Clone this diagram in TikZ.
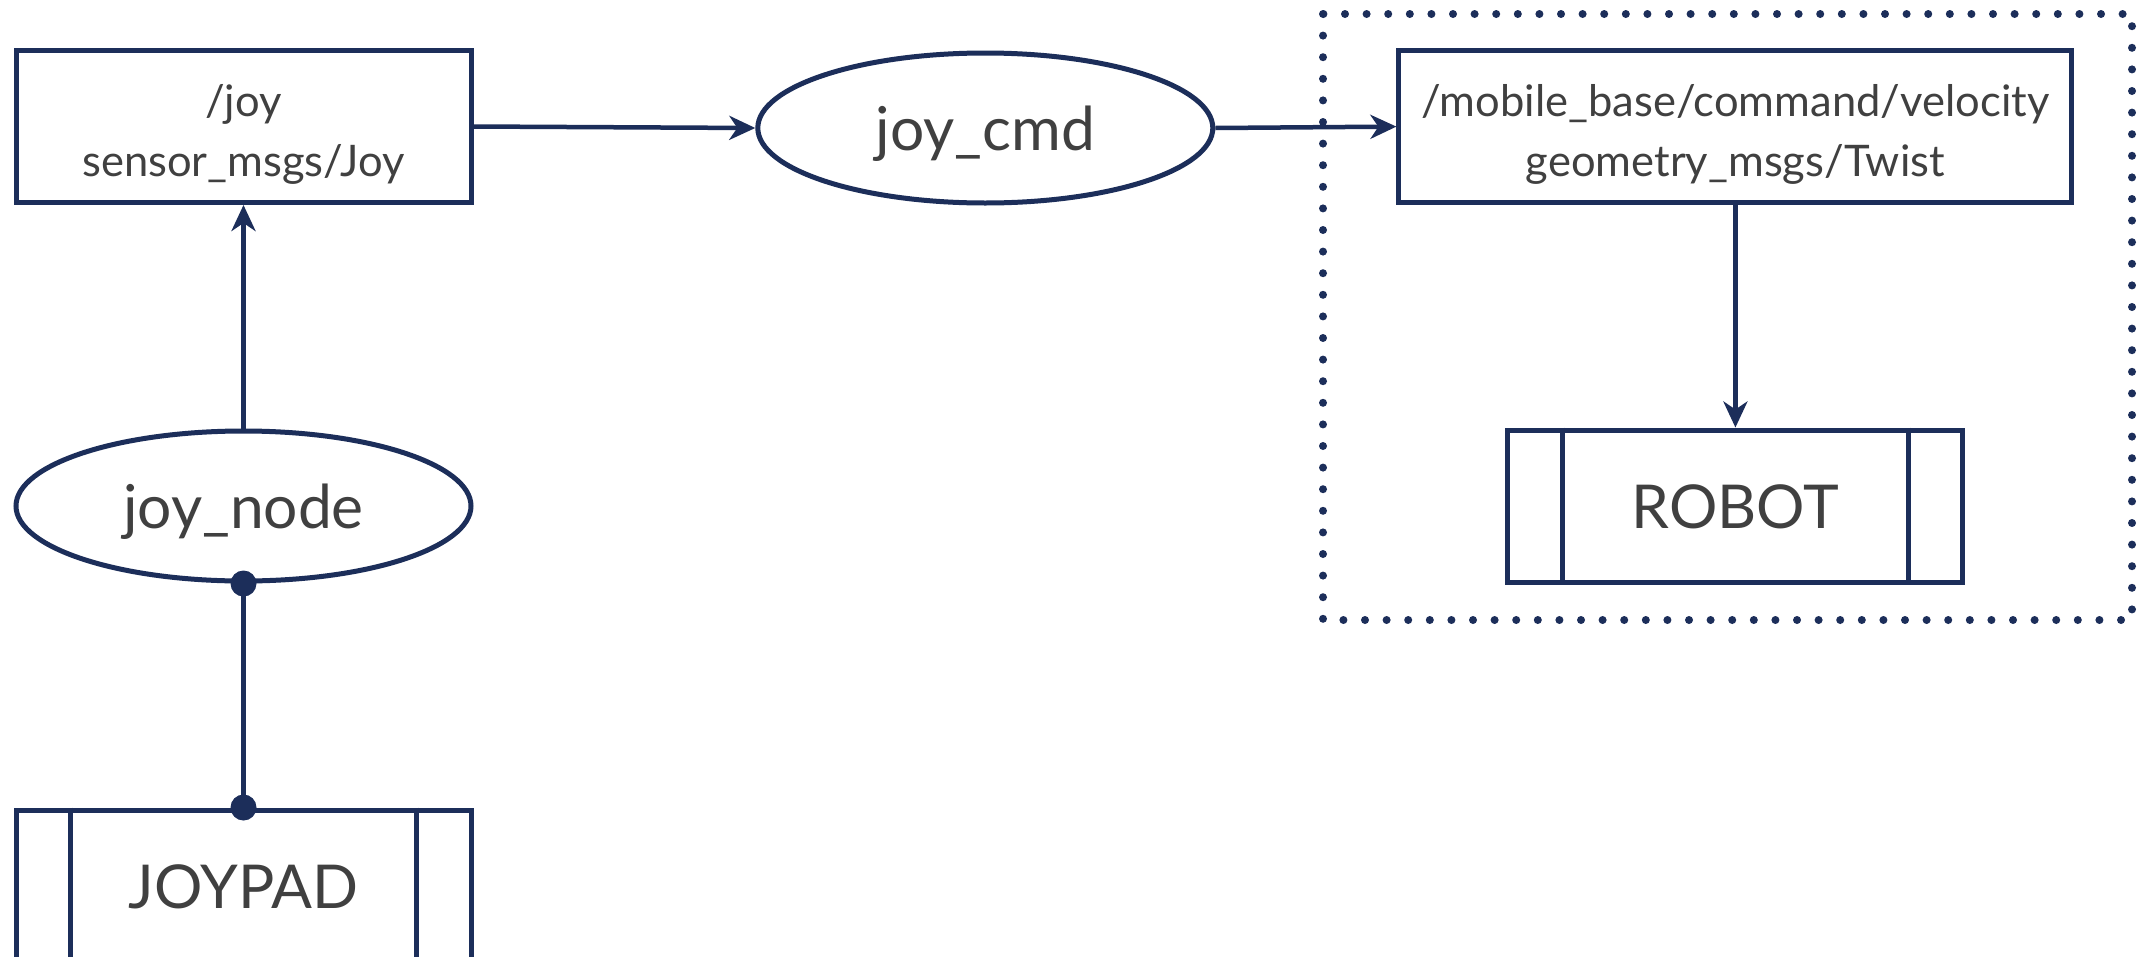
\documentclass[tikz,border=0pt]{standalone}
\usepackage{fontspec}
\setmainfont{Lato}
\usetikzlibrary{arrows.meta,shapes.geometric}
\definecolor{navy}{RGB}{28,46,90}
\definecolor{ink}{RGB}{64,64,64}
\tikzset{
  base/.style={draw=navy, line width=5pt, text=ink, inner sep=0pt},
  topic/.style={base, rectangle, minimum height=152pt, font=\fontsize{43.5}{60}\selectfont},
  rosnode/.style={base, ellipse, minimum width=455pt, minimum height=150pt, font=\fontsize{60.5}{66}\selectfont},
  device/.style={base, rectangle, minimum width=455pt, minimum height=152pt, font=\fontsize{60.5}{66}\selectfont},
  arr/.style={draw=navy, line width=4.5pt, -{Stealth[length=26pt, width=24pt, inset=8pt]}},
  link/.style={draw=navy, line width=4.5pt},
  frame/.style={draw=navy, line width=8pt, line cap=round, dash pattern=on 0pt off 21.6pt},
}
% text set slightly below the geometric centre of its shape
\newcommand{\lowered}[2][-9.5pt]{\raisebox{#1}[\height][\depth]{\begin{tabular}{@{}c@{}}#2\end{tabular}}}
\newcommand{\sidebars}[1]{%
  \draw[navy, line width=5pt] ([xshift=57pt]#1.north west) -- ([xshift=57pt]#1.south west);
  \draw[navy, line width=5pt] ([xshift=-57pt]#1.north east) -- ([xshift=-57pt]#1.south east);}
\begin{document}
\begin{tikzpicture}[x=1pt, y=-1pt]
  \useasboundingbox (0,0) rectangle (2146,956);
  \clip (0,0) rectangle (2146,956);
  \fill[white] (0,0) rectangle (2146,956);

  % dotted group around the robot side
  \draw[frame] (1323,14) rectangle (2132,620);

  % topics
  \node[topic, minimum width=455pt] (joytopic) at (243.5,126.5) {\lowered[-7.5pt]{/joy\\sensor\_msgs/Joy}};
  \node[topic, minimum width=673pt] (velocity) at (1735.4,126.6) {\lowered[-7.5pt]{/mobile\_base/command/velocity\\geometry\_msgs/Twist}};

  % ROS nodes
  \node[rosnode] (joycmd) at (985.3,128) {\lowered{joy\_cmd}};
  \node[rosnode] (joynode) at (243.5,506) {\lowered{joy\_node}};

  % hardware
  \node[device] (robot) at (1735.4,506) {\lowered{ROBOT}};
  \node[device] (joypad) at (243.5,886) {\lowered{JOYPAD}};
  \sidebars{robot}
  \sidebars{joypad}

  % connections
  \draw[arr] (joynode) -- (joytopic);
  \draw[arr] (joytopic.east) -- (joycmd.west);
  \draw[arr] (joycmd.east) -- (velocity.west);
  \draw[arr] (velocity) -- (robot);
  \draw[link] (joynode.south) -- (joypad.north);
  \fill[navy] (joynode.south) circle (13pt);
  \fill[navy] (joypad.north) circle (13pt);
\end{tikzpicture}
\end{document}
